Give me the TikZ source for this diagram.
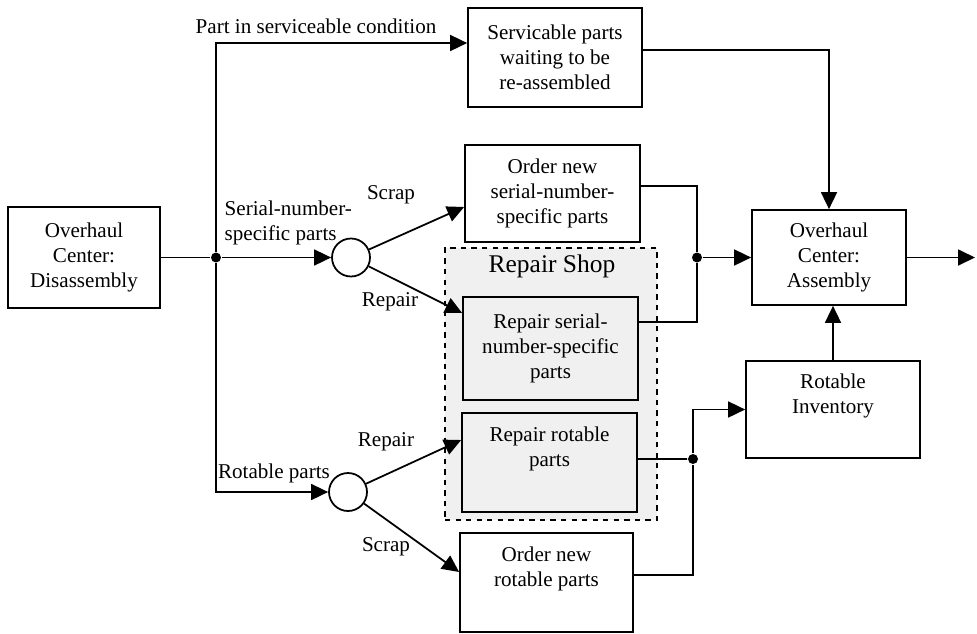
\documentclass[tikz,border=0pt]{standalone}
\usepackage{fontspec}
\setmainfont{Liberation Serif}
\usetikzlibrary{arrows.meta, positioning, calc}

\begin{document}
\begin{tikzpicture}[x=0.02cm, y=-0.02cm, >={Triangle[length=0.34cm, width=0.32cm]},
    line width=1pt, font=\fontsize{12}{14.2}\selectfont,
    blk/.style={draw, align=center, inner sep=2pt},
    hub/.style={draw, circle, minimum size=0.76cm, inner sep=0pt},
    dot/.style={circle, fill, inner sep=0pt, minimum size=0.2cm}]
    \useasboundingbox (0,0) rectangle (977,633);

    % repair shop frame
    \node[draw, dashed, fill=gray!12, line width=1.4pt, minimum width=4.24cm, minimum height=5.44cm] (shop) at (551,384) {};
    \node[font=\fontsize{14.5}{17}\selectfont] (shoplbl) at (552,266) {Repair Shop};

    % boxes
    \node[blk, minimum width=3.04cm, minimum height=2.02cm] (dis) at (84,257.5) {Overhaul\\Center:\\Disassembly};
    \node[blk, minimum width=3.48cm, minimum height=1.98cm] (serv) at (555,57.5) {Servicable parts\\waiting to be\\re-assembled};
    \node[blk, minimum width=3.5cm, minimum height=1.94cm] (ordS) at (552.5,193.5) {Order new\\serial-number-\\specific parts};
    \node[blk, fill=gray!12, minimum width=3.5cm, minimum height=2.06cm] (repS) at (550.5,348.5) {Repair serial-\\number-specific\\parts};
    \node[blk, fill=gray!12, minimum width=3.5cm, minimum height=1.98cm] (repR) at (549.5,462.5) {Repair rotable\\parts\\\strut};
    \node[blk, minimum width=3.46cm, minimum height=1.98cm] (ordR) at (546.5,582.5) {Order new\\rotable parts\\\strut};
    \node[blk, minimum width=3.08cm, minimum height=1.9cm] (asm) at (829,257.5) {Overhaul\\Center:\\Assembly};
    \node[blk, minimum width=3.48cm, minimum height=1.94cm] (inv) at (833,409.5) {Rotable\\Inventory\\\strut};

    % split points
    \node[hub] (circS) at (351,257.5) {};
    \node[hub] (circR) at (348,492) {};
    \node[dot] (j1) at (216,257.5) {};
    \node[dot] (j2) at (697,257.5) {};
    \node[dot] (j3) at (693,459) {};
    \coordinate (ctop) at (216,43);
    \coordinate (out) at (975,257.5);

    % labels
    \node (lserv) at (316,26) {Part in serviceable condition};
    \node[align=left, anchor=west] (lsns) at (218,223) {Serial-number-\\specific parts};
    \node (lscrap1) at (391,195) {Scrap};
    \node (lrep1) at (390,302) {Repair};
    \node (lrot) at (274,473) {Rotable parts};
    \node (lrep2) at (386,442) {Repair};
    \node (lscrap2) at (386,547) {Scrap};

    % connectors
    \draw (dis) -- (j1);
    \draw[->] (j1) -- (circS);
    \draw[->] (j1) |- (serv.west |- ctop);
    \draw[->] (j1) |- (circR);
    \draw[->] (circS) -- ([yshift=-0.27cm]ordS.west);
    \draw[->] (circS) -- ([yshift=0.71cm]repS.west);
    \draw[->] (circR) -- ([yshift=0.45cm]repR.west);
    \draw[->] (circR) -- ([yshift=0.21cm]ordR.west);

    \draw ([yshift=0.15cm]ordS.east) -| (j2);
    \draw ([yshift=0.53cm]repS.east) -| (j2);
    \draw[->] (j2) -- (asm);
    \draw[->] ([yshift=0.15cm]serv.east) -| (asm);
    \draw[->] (asm) -- (out);

    \draw ([yshift=0.07cm]repR.east) -- (j3);
    \draw ([yshift=0.15cm]ordR.east) -| (j3);
    \draw[->] (j3) |- (inv);
    \draw[->] (inv.north) -- (inv.north |- asm.south);
\end{tikzpicture}
\end{document}
